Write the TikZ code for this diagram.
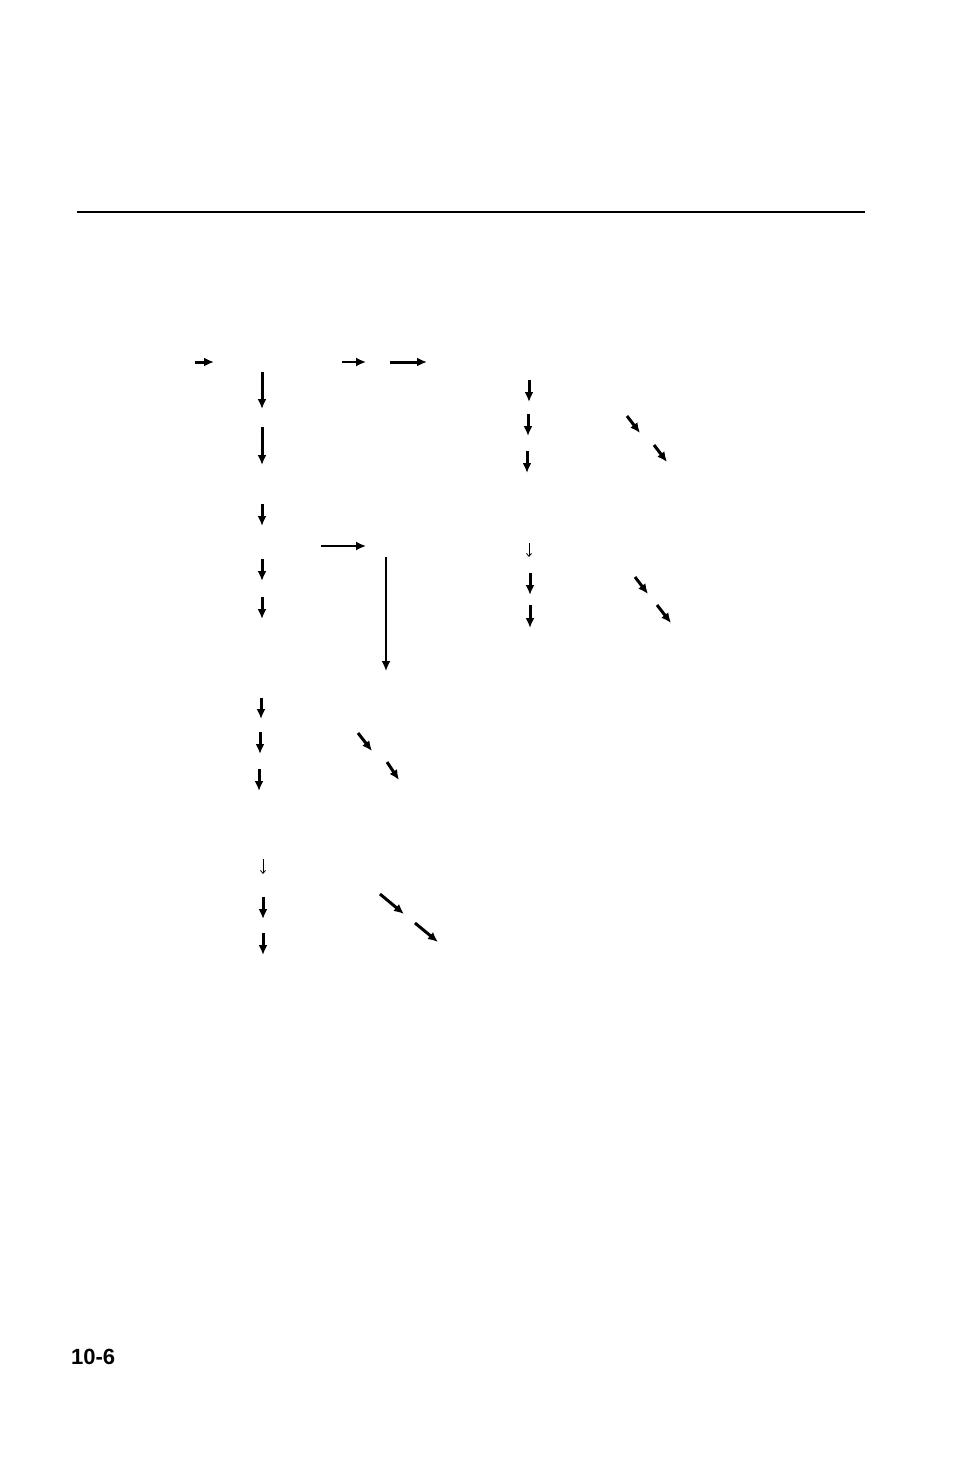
\documentclass[tikz,border=0pt]{standalone}
\usepackage{fontspec}
\setmainfont{Liberation Sans}
\usetikzlibrary{arrows.meta}
\begin{document}
\begin{tikzpicture}[x=1pt,y=-1pt,
  thk/.style={line width=3pt,-{Latex[length=10pt,width=9pt]}},
  thn/.style={line width=1.7pt,-{Latex[length=10pt,width=9pt]}},
  tiny/.style={line width=0.8pt,-{Straight Barb[length=3pt,width=5pt]}},
  rule/.style={line width=1.4pt}]
\useasboundingbox (0,0) rectangle (954,1475);
\draw[rule] (77,212) -- (865,212);
% top row
\draw[thk] (195,362) -- (214,362);
\draw[thn] (342,362) -- (366,362);
\draw[thk] (390,362) -- (427,362);
% left column
\draw[thk] (262,372) -- (262,409);
\draw[thk] (262,427) -- (262,465);
\draw[thk] (262,504) -- (262,526);
\draw[thn] (321,546) -- (366,546);
\draw[thk] (262,559) -- (262,581);
\draw[thk] (262,597) -- (262,619);
\draw[thn] (386,557) -- (386,671);
\draw[thk] (261,698) -- (261,719);
\draw[thk] (260,732) -- (260,754);
\draw[thk] (259,769) -- (259,791);
\draw[thk] (358,733) -- (372,751);
\draw[thk] (387,762) -- (399,780);
\draw[tiny] (263,859) -- (263,874);
\draw[thk] (263,897) -- (263,919);
\draw[thk] (263,933) -- (263,955);
\draw[thk] (380,894) -- (404,914);
\draw[thk] (415,923) -- (438,942);
% right column
\draw[thk] (529,380) -- (529,402);
\draw[thk] (528,414) -- (528,436);
\draw[thk] (527,451) -- (527,473);
\draw[thk] (627,416) -- (640,433);
\draw[thk] (654,445) -- (667,462);
\draw[tiny] (529,543) -- (529,557);
\draw[thk] (530,573) -- (530,595);
\draw[thk] (530,605) -- (530,628);
\draw[thk] (635,577) -- (648,594);
\draw[thk] (657,605) -- (671,623);
\node[font=\bfseries\fontsize{22}{26}\selectfont,anchor=base west,inner sep=0pt] (pg) at (71,1364) {10-6};
\end{tikzpicture}
\end{document}
